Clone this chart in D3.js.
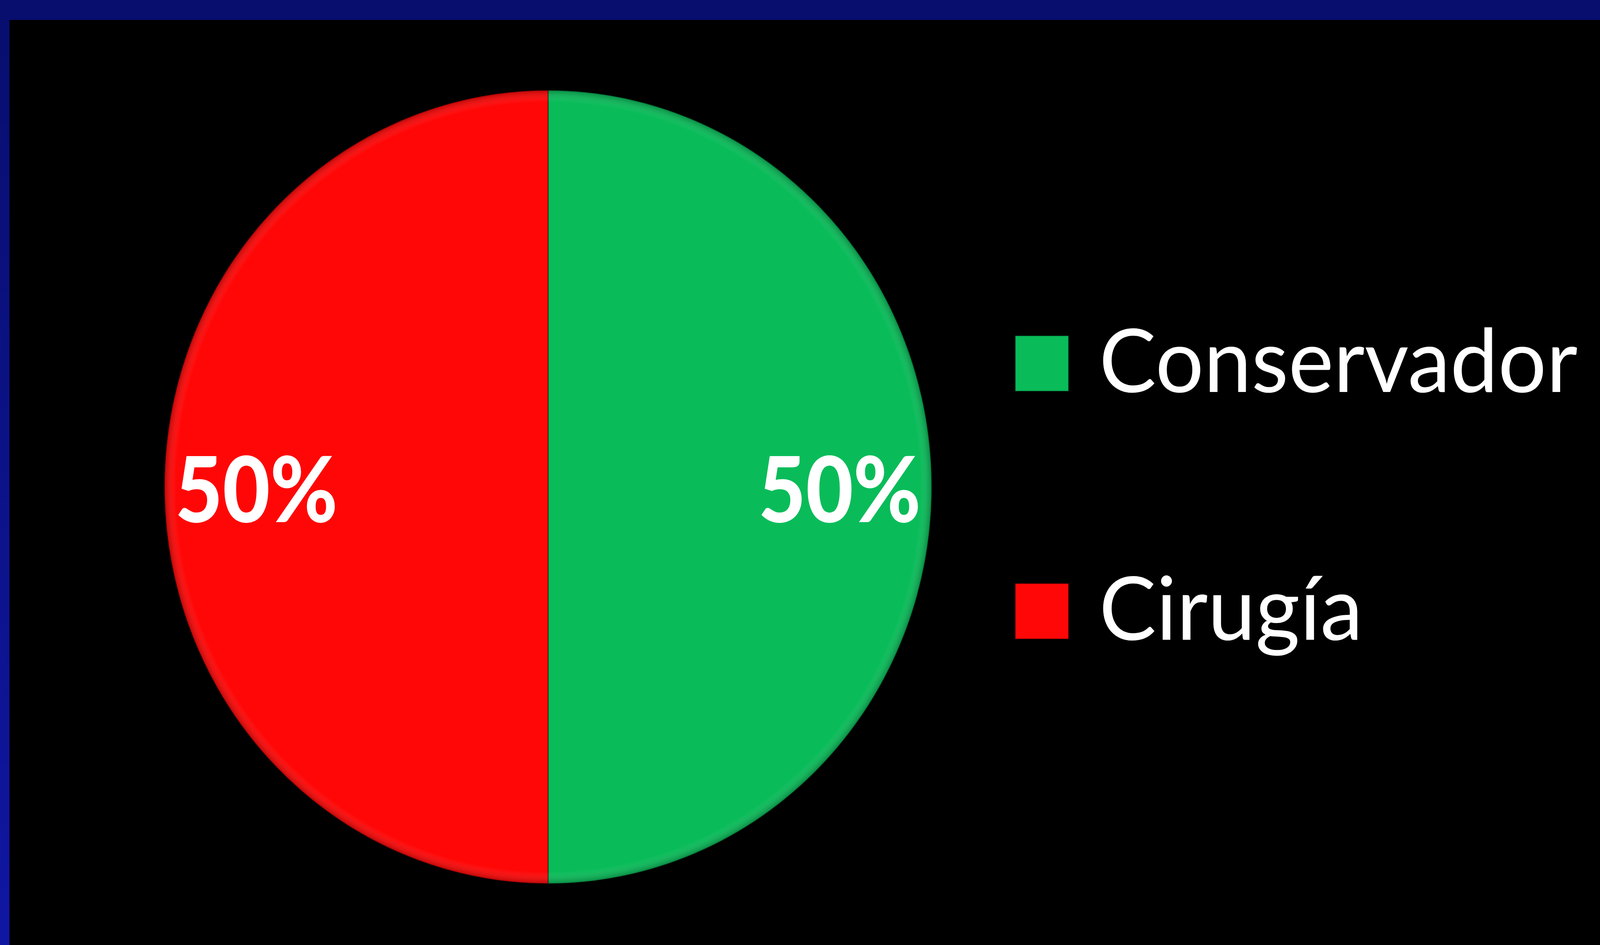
<!DOCTYPE html>
<html>
<head>
<meta charset="utf-8">
<script src="https://cdn.jsdelivr.net/npm/d3@7"></script>
<style>
  html, body { margin: 0; padding: 0; background: #000; overflow: hidden; }
  svg { display: block; width: 100vw; height: 100vh; }
</style>
</head>
<body>
<svg id="chart"></svg>
<script>
  // Data
  const categories = ["Conservador", "Cirugía"];
  const values = [50, 50];
  const labels = ["50%", "50%"];
  const colors = ["#09BC59", "#FF0707"];

  // Dimensions
  const width = 4233;
  const height = 2418;
  const cx = 1450;
  const cy = 1246;
  const radius = 1015;

  const svg = d3.select("#chart")
    .attr("viewBox", `0 0 ${width} ${height}`)
    .attr("preserveAspectRatio", "none");

  const defs = svg.append("defs");
  const sideGrad = defs.append("linearGradient")
    .attr("id", "side")
    .attr("x1", 0).attr("y1", 0).attr("x2", 0).attr("y2", 1);
  sideGrad.append("stop").attr("offset", "0%").attr("stop-color", "#070E6E");
  sideGrad.append("stop").attr("offset", "100%").attr("stop-color", "#1016A2");

  // rim shading for the pie
  const rim = defs.append("radialGradient")
    .attr("id", "rim")
    .attr("cx", 0.5).attr("cy", 0.5).attr("r", 0.5);
  rim.append("stop").attr("offset", "97%").attr("stop-color", "#fff").attr("stop-opacity", 0);
  rim.append("stop").attr("offset", "100%").attr("stop-color", "#000").attr("stop-opacity", 0.25);

  // Background and frame
  svg.append("rect").attr("width", width).attr("height", height).attr("fill", "#000");
  svg.append("rect").attr("x", 0).attr("y", 0).attr("width", 25).attr("height", height).attr("fill", "url(#side)");
  svg.append("rect").attr("x", 0).attr("y", 0).attr("width", width).attr("height", 51).attr("fill", "#070E6E");

  const pieData = d3.pie().sort(null).value((d) => d)(values);
  const arc = d3.arc().innerRadius(0).outerRadius(radius);
  const labelArc = d3.arc().innerRadius(radius * 0.76).outerRadius(radius * 0.76);

  const g = svg.append("g").attr("transform", `translate(${cx},${cy})`);

  g.selectAll("path.slice")
    .data(pieData)
    .enter()
    .append("path")
    .attr("class", "slice")
    .attr("d", arc)
    .attr("fill", (d, i) => colors[i])
    .attr("stroke", "rgba(0,0,0,0.35)")
    .attr("stroke-width", 3);

  g.append("circle").attr("r", radius).attr("fill", "url(#rim)");

  // Slice labels
  g.selectAll("text.pct")
    .data(pieData)
    .enter()
    .append("text")
    .attr("class", "pct")
    .attr("x", (d) => labelArc.centroid(d)[0])
    .attr("y", (d) => labelArc.centroid(d)[1] + 90)
    .attr("text-anchor", "middle")
    .attr("font-family", "Lato, 'Open Sans', sans-serif")
    .attr("font-weight", 900)
    .attr("font-size", 232)
    .attr("textLength", 430)
    .attr("lengthAdjust", "spacingAndGlyphs")
    .attr("fill", "#fff")
    .text((d, i) => labels[i]);

  // Legend
  const legend = svg.append("g").attr("transform", "translate(2686,859)");
  const item = legend.selectAll("g")
    .data(categories)
    .enter()
    .append("g")
    .attr("transform", (d, i) => `translate(0,${i * 634})`);

  item.append("rect")
    .attr("width", 141)
    .attr("height", 142)
    .attr("fill", (d, i) => colors[i])
    .attr("stroke", "rgba(0,0,0,0.3)")
    .attr("stroke-width", 3);

  item.append("text")
    .attr("x", 222)
    .attr("y", 144)
    .attr("font-family", "Lato, 'Open Sans', sans-serif")
    .attr("font-size", 226)
    .attr("fill", "#fff")
    .text((d) => d);
</script>
</body>
</html>
